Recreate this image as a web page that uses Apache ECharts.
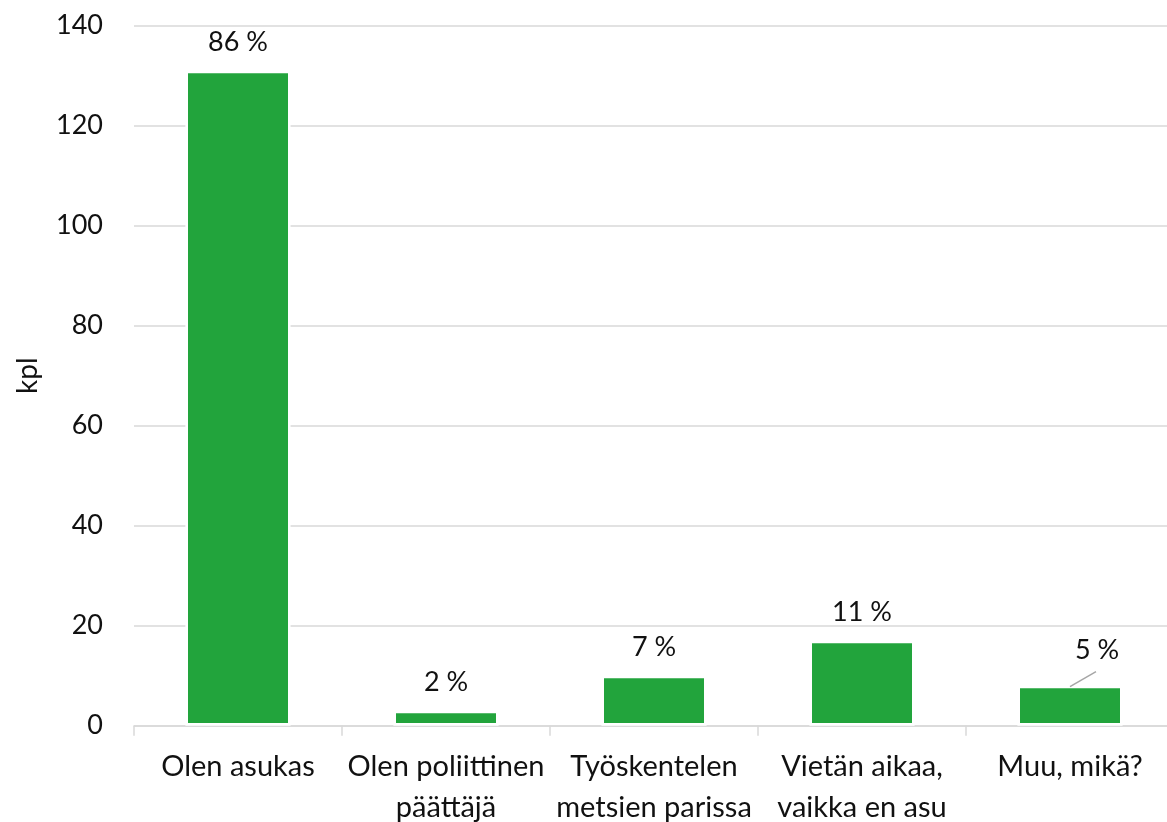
<!DOCTYPE html>
<html>
<head>
<meta charset="utf-8">
<script src="https://cdn.jsdelivr.net/npm/echarts@6/dist/echarts.min.js"></script>
<style>
html,body{margin:0;padding:0;background:#fff;}
#c{width:1167px;height:822px;}
</style>
</head>
<body>
<div id="c"></div>
<script>
const categories = ['Olen asukas', 'Olen poliittinen\npäättäjä', 'Työskentelen\nmetsien parissa', 'Vietän aikaa,\nvaikka en asu', 'Muu, mikä?'];
const counts = [131, 3, 10, 17, 8];
const percentLabels = ['86 %', '2 %', '7 %', '11 %', '5 %'];
const yTicks = { min: 0, max: 140, interval: 20 };
const yAxisName = 'kpl';
const movedLabelIndex = 4;

const FONT = 'Lato';
const LABEL_DX = 27, LABEL_DY = -7;
const chart = echarts.init(document.getElementById('c'));
chart.setOption({
  animation: false,
  backgroundColor: '#fff',
  textStyle: { fontFamily: FONT },
  grid: { left: 134, right: -7, top: 25.7, bottom: 96.3, containLabel: false, outerBoundsMode: 'none' },
  xAxis: {
    type: 'category',
    data: categories,
    axisLine: { lineStyle: { color: '#d9d9d9', width: 1.5 } },
    axisTick: { show: true, length: 10, lineStyle: { color: '#d9d9d9', width: 1.5 } },
    axisLabel: { color: '#111', fontSize: 29, fontFamily: FONT, lineHeight: 41, margin: 20, interval: 0 }
  },
  yAxis: {
    type: 'value',
    min: yTicks.min, max: yTicks.max, interval: yTicks.interval,
    name: yAxisName,
    nameLocation: 'middle',
    nameGap: 92,
    nameRotate: 90,
    nameTextStyle: { color: '#111', fontSize: 28, fontFamily: FONT },
    axisLine: { show: false },
    axisTick: { show: false },
    splitLine: { lineStyle: { color: '#d9d9d9', width: 1.5 } },
    axisLabel: { color: '#111', fontSize: 27, fontFamily: FONT, margin: 31 }
  },
  series: [{
    type: 'bar',
    data: counts,
    barWidth: 105.2,
    itemStyle: { color: '#22a43c', borderColor: '#ffffff', borderWidth: 2.6 },
    label: {
      show: true,
      position: 'top',
      distance: 15,
      color: '#111',
      fontSize: 27,
      fontFamily: FONT,
      formatter: p => percentLabels[p.dataIndex]
    },
    labelLine: { show: false },
    labelLayout: function (p) {
      if (p.dataIndex !== movedLabelIndex) return {};
      return { dx: LABEL_DX, dy: LABEL_DY };
    }
  }]
});

// leader line for the moved label, anchored through the chart's own scales
const barTopPx = chart.convertToPixel({ seriesIndex: 0 }, [movedLabelIndex, counts[movedLabelIndex]]);
chart.setOption({
  graphic: [{
    type: 'line',
    silent: true,
    shape: { x1: barTopPx[0], y1: barTopPx[1] + 1, x2: barTopPx[0] + LABEL_DX - 1, y2: barTopPx[1] - 14 },
    style: { stroke: '#a6a6a6', lineWidth: 1.5 },
    z: 10
  }]
});
</script>
</body>
</html>
